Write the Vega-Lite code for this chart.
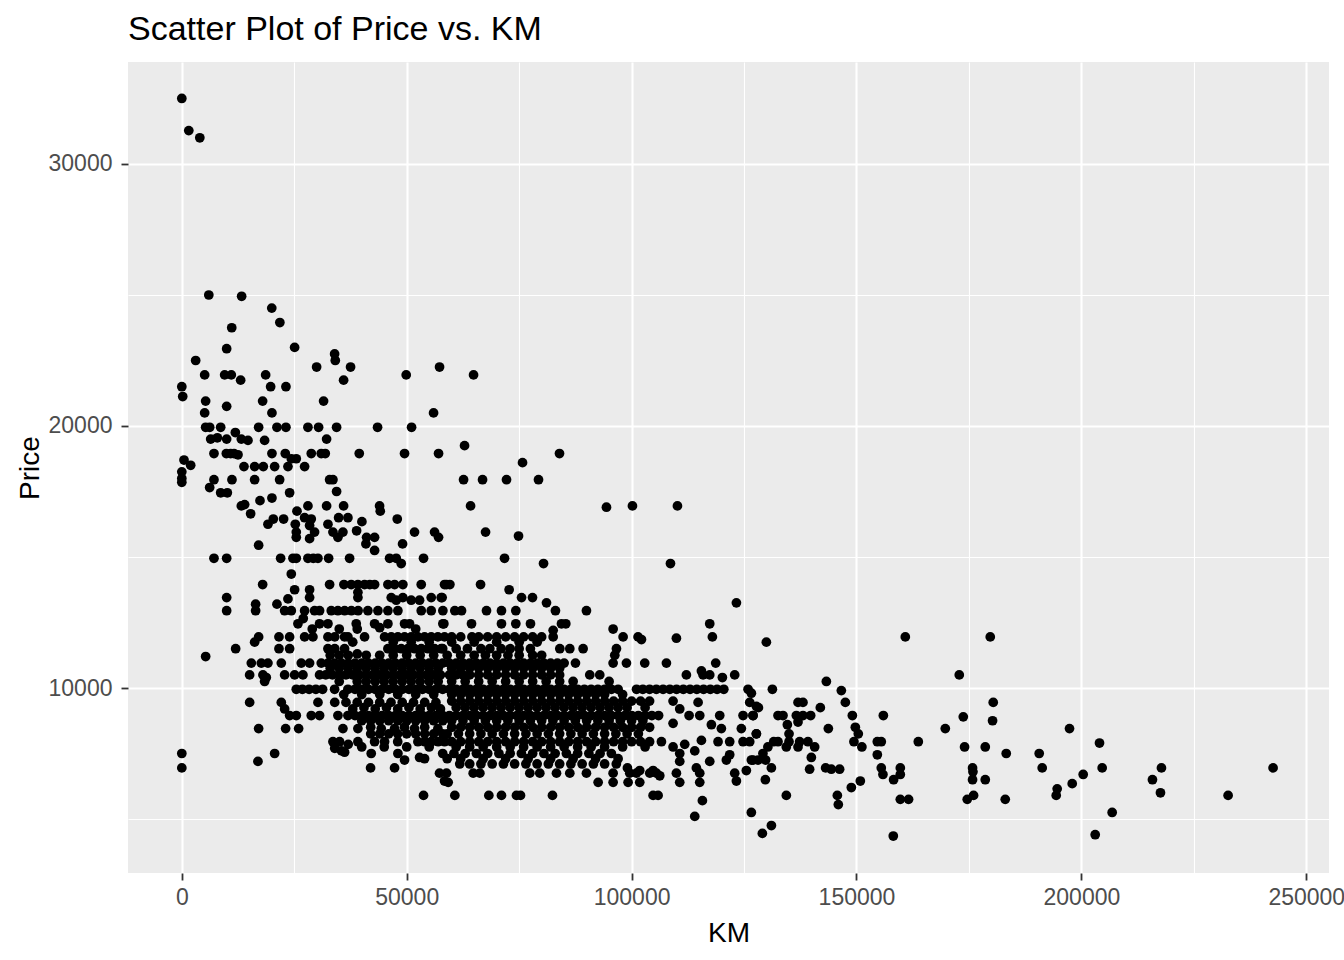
{
  "$schema": "https://vega.github.io/schema/vega-lite/v6.json",
  "width": 1201,
  "height": 811,
  "autosize": {"type": "none"},
  "padding": {"left": 128, "top": 62, "right": 15, "bottom": 87},
  "title": {
    "text": "Scatter Plot of Price vs. KM",
    "anchor": "start",
    "frame": "group",
    "baseline": "alphabetic",
    "offset": -12,
    "font": "Liberation Sans",
    "fontSize": 34,
    "fontWeight": "normal",
    "color": "#000000"
  },
  "data": {
    "values": [
      {"KM":0,"Price":32500},{"KM":1550,"Price":31275},{"KM":4000,"Price":31000},{"KM":6000,"Price":25000},{"KM":13300,"Price":24950},{"KM":20000,"Price":24500},{"KM":21800,"Price":23950},{"KM":11100,"Price":23750},
      {"KM":9970,"Price":22950},{"KM":25080,"Price":23000},{"KM":33970,"Price":22750},{"KM":34120,"Price":22500},{"KM":3080,"Price":22500},{"KM":29970,"Price":22250},{"KM":37520,"Price":22250},{"KM":57300,"Price":22250},{"KM":5080,"Price":21950},{"KM":9525,"Price":21950},{"KM":11000,"Price":21950},{"KM":13080,"Price":21750},{"KM":18640,"Price":21950},{"KM":49890,"Price":21950},{"KM":19750,"Price":21500},{"KM":23150,"Price":21500},{"KM":35970,"Price":21750},{"KM":1,"Price":21500},{"KM":200,"Price":21125},{"KM":5300,"Price":20950},{"KM":9970,"Price":20750},{"KM":17970,"Price":20950},{"KM":31520,"Price":20950},{"KM":5080,"Price":20500},{"KM":20040,"Price":20500},{"KM":55970,"Price":20500},
      {"KM":5300,"Price":19950},{"KM":6200,"Price":19950},{"KM":8640,"Price":19950},{"KM":17080,"Price":19950},{"KM":21150,"Price":19950},{"KM":23150,"Price":19950},{"KM":28040,"Price":19950},{"KM":30410,"Price":19950},{"KM":34410,"Price":19950},{"KM":43520,"Price":19950},{"KM":51080,"Price":19950},
      {"KM":6415,"Price":19500},{"KM":7900,"Price":19550},{"KM":9970,"Price":19500},{"KM":11900,"Price":19750},{"KM":13230,"Price":19500},{"KM":14710,"Price":19450},{"KM":18410,"Price":19450},{"KM":32190,"Price":19500},
      {"KM":7150,"Price":18950},{"KM":9900,"Price":18950},{"KM":10860,"Price":18950},{"KM":11600,"Price":18950},{"KM":12490,"Price":18900},{"KM":20040,"Price":18950},{"KM":23000,"Price":18950},{"KM":24340,"Price":18750},{"KM":25450,"Price":18750},{"KM":28780,"Price":18950},{"KM":31000,"Price":18950},{"KM":31890,"Price":18950},{"KM":39450,"Price":18950},{"KM":49520,"Price":18950},{"KM":57080,"Price":18950},
      {"KM":490,"Price":18700},{"KM":1970,"Price":18500},
      {"KM":13820,"Price":18450},{"KM":16190,"Price":18450},{"KM":18120,"Price":18450},{"KM":20640,"Price":18450},{"KM":23600,"Price":18450},{"KM":27300,"Price":18450},
      {"KM":1,"Price":18250},{"KM":1,"Price":18000},{"KM":1,"Price":17850},
      {"KM":7150,"Price":17950},{"KM":11150,"Price":17950},{"KM":16190,"Price":17950},{"KM":21750,"Price":17950},{"KM":32860,"Price":17950},{"KM":33600,"Price":17950},
      {"KM":6190,"Price":17650},{"KM":8640,"Price":17450},{"KM":10120,"Price":17450},{"KM":23970,"Price":17450},{"KM":34410,"Price":17500},{"KM":17380,"Price":17150},{"KM":20040,"Price":17250},{"KM":13230,"Price":16950},{"KM":13970,"Price":17000},{"KM":15300,"Price":16650},{"KM":22630,"Price":16450},{"KM":25600,"Price":16750},{"KM":28040,"Price":16950},{"KM":32190,"Price":16950},{"KM":35970,"Price":16950},{"KM":43970,"Price":16950},{"KM":44120,"Price":16750},{"KM":19150,"Price":16250},{"KM":20340,"Price":16450},{"KM":25230,"Price":16250},{"KM":25450,"Price":15950},{"KM":25450,"Price":15750},{"KM":27300,"Price":16500},{"KM":28780,"Price":16450},{"KM":28410,"Price":16200},{"KM":29520,"Price":15950},{"KM":28410,"Price":15700},{"KM":32490,"Price":16250},{"KM":33600,"Price":15950},{"KM":34710,"Price":15750},{"KM":35820,"Price":15950},{"KM":34860,"Price":16500},{"KM":36930,"Price":16500},{"KM":38860,"Price":16000},{"KM":40040,"Price":16350},{"KM":41080,"Price":15750},{"KM":42860,"Price":15750},{"KM":40930,"Price":15500},{"KM":42860,"Price":15250},{"KM":47900,"Price":16450},{"KM":49080,"Price":15500},{"KM":51740,"Price":15950},{"KM":56190,"Price":15950},{"KM":57080,"Price":15750},{"KM":17080,"Price":15450},
      {"KM":7150,"Price":14950},{"KM":9970,"Price":14950},{"KM":21970,"Price":14950},{"KM":24710,"Price":14950},{"KM":25450,"Price":14950},{"KM":28040,"Price":14950},{"KM":29230,"Price":14950},{"KM":30260,"Price":14950},{"KM":32640,"Price":14950},{"KM":37300,"Price":14950},{"KM":46190,"Price":14950},{"KM":47670,"Price":14950},{"KM":48780,"Price":14750},{"KM":53740,"Price":14950},
      {"KM":24340,"Price":14350},
      {"KM":17970,"Price":13950},{"KM":32860,"Price":13950},{"KM":36040,"Price":13950},{"KM":37670,"Price":13950},{"KM":39150,"Price":13950},{"KM":40630,"Price":13950},{"KM":41800,"Price":13950},{"KM":42860,"Price":13950},{"KM":45820,"Price":13950},{"KM":47300,"Price":13950},{"KM":49150,"Price":13950},{"KM":53230,"Price":13950},{"KM":58410,"Price":13950},
      {"KM":25080,"Price":13750},{"KM":28410,"Price":13750},{"KM":9970,"Price":13450},{"KM":23600,"Price":13400},{"KM":28410,"Price":13450},{"KM":39150,"Price":13450},{"KM":39150,"Price":13650},{"KM":46560,"Price":13450},{"KM":47670,"Price":13350},{"KM":49150,"Price":13450},{"KM":51000,"Price":13350},{"KM":52860,"Price":13350},{"KM":55450,"Price":13450},{"KM":57670,"Price":13450},
      {"KM":64860,"Price":21950},{"KM":62860,"Price":19250},{"KM":83970,"Price":18950},{"KM":75750,"Price":18600},{"KM":62640,"Price":17950},{"KM":66860,"Price":17950},{"KM":72190,"Price":17950},{"KM":79300,"Price":17950},{"KM":64200,"Price":16950},{"KM":94410,"Price":16900},{"KM":100190,"Price":16950},{"KM":110190,"Price":16950},{"KM":67530,"Price":15950},{"KM":74860,"Price":15800},{"KM":71750,"Price":14950},{"KM":80420,"Price":14750},{"KM":108640,"Price":14750},{"KM":58860,"Price":13950},{"KM":59600,"Price":13950},{"KM":66420,"Price":13950},{"KM":72770,"Price":13750},{"KM":75530,"Price":13450},{"KM":77970,"Price":13450},{"KM":81080,"Price":13250},{"KM":123300,"Price":13250},{"KM":57880,"Price":13450},
      {"KM":9970,"Price":12950},{"KM":16410,"Price":13200},{"KM":16410,"Price":12950},{"KM":21150,"Price":13200},
      {"KM":22860,"Price":12950},{"KM":24340,"Price":12950},{"KM":27300,"Price":12950},{"KM":29520,"Price":12950},{"KM":30630,"Price":12950},{"KM":33230,"Price":12950},{"KM":34700,"Price":12950},{"KM":36200,"Price":12950},{"KM":37700,"Price":12950},{"KM":39200,"Price":12950},{"KM":41370,"Price":12950},{"KM":43600,"Price":12950},{"KM":45820,"Price":12950},{"KM":48040,"Price":12950},{"KM":53230,"Price":12950},{"KM":55450,"Price":12950},{"KM":58040,"Price":12950},
      {"KM":25820,"Price":12450},{"KM":30630,"Price":12450},{"KM":32490,"Price":12450},{"KM":38780,"Price":12450},{"KM":42860,"Price":12450},{"KM":45820,"Price":12450},{"KM":49520,"Price":12450},{"KM":50630,"Price":12450},{"KM":58040,"Price":12450},
      {"KM":35000,"Price":12250},{"KM":39000,"Price":12250},{"KM":44000,"Price":12300},{"KM":52000,"Price":12250},{"KM":27000,"Price":12650},{"KM":29000,"Price":12250},
      {"KM":17080,"Price":11950},{"KM":16190,"Price":11750},{"KM":21600,"Price":11950},{"KM":23970,"Price":11950},{"KM":21600,"Price":11500},{"KM":23970,"Price":11500},{"KM":27300,"Price":11950},{"KM":29150,"Price":11950},{"KM":32490,"Price":11950},{"KM":34000,"Price":11950},{"KM":36190,"Price":11950},{"KM":32490,"Price":11500},{"KM":34000,"Price":11500},{"KM":36190,"Price":11500},{"KM":36930,"Price":11950},{"KM":40630,"Price":11950},{"KM":45080,"Price":11950},{"KM":46560,"Price":11950},{"KM":48040,"Price":11950},{"KM":49520,"Price":11950},{"KM":51000,"Price":11950},{"KM":52490,"Price":11950},{"KM":53970,"Price":11950},{"KM":55450,"Price":11950},{"KM":56930,"Price":11950},{"KM":58410,"Price":11950},
      {"KM":45820,"Price":11500},{"KM":47300,"Price":11500},{"KM":48780,"Price":11500},{"KM":50260,"Price":11500},{"KM":51740,"Price":11500},{"KM":53230,"Price":11500},{"KM":54710,"Price":11500},{"KM":56190,"Price":11500},{"KM":57670,"Price":11500},
      {"KM":11970,"Price":11500},{"KM":5300,"Price":11200},
      {"KM":33000,"Price":11250},{"KM":35000,"Price":11250},{"KM":37000,"Price":11250},{"KM":39000,"Price":11300},
      {"KM":15450,"Price":10950},{"KM":17670,"Price":10950},{"KM":19150,"Price":10950},{"KM":22120,"Price":10950},{"KM":26560,"Price":10950},{"KM":28410,"Price":10950},{"KM":31000,"Price":10950},{"KM":32500,"Price":10950},{"KM":34000,"Price":10950},{"KM":35500,"Price":10950},{"KM":37000,"Price":10950},{"KM":38500,"Price":10950},{"KM":40000,"Price":10950},{"KM":41500,"Price":10950},{"KM":43000,"Price":10950},{"KM":44500,"Price":10950},{"KM":46000,"Price":10950},{"KM":47500,"Price":10950},{"KM":49000,"Price":10950},{"KM":50500,"Price":10950},{"KM":52000,"Price":10950},{"KM":53500,"Price":10950},{"KM":55000,"Price":10950},{"KM":56500,"Price":10950},{"KM":58000,"Price":10950},
      {"KM":15080,"Price":10500},{"KM":18040,"Price":10500},{"KM":18780,"Price":10400},{"KM":22860,"Price":10500},{"KM":25080,"Price":10500},{"KM":26930,"Price":10500},{"KM":30630,"Price":10500},{"KM":32000,"Price":10500},{"KM":33500,"Price":10500},{"KM":35000,"Price":10500},{"KM":36500,"Price":10500},{"KM":38000,"Price":10500},{"KM":39500,"Price":10500},{"KM":41000,"Price":10500},{"KM":42500,"Price":10500},{"KM":44000,"Price":10500},{"KM":45500,"Price":10500},{"KM":47000,"Price":10500},{"KM":48500,"Price":10500},{"KM":50000,"Price":10500},{"KM":51500,"Price":10500},{"KM":53000,"Price":10500},{"KM":54500,"Price":10500},{"KM":56000,"Price":10500},{"KM":57500,"Price":10500},
      {"KM":18410,"Price":10250},
      {"KM":33000,"Price":10750},{"KM":37000,"Price":10750},{"KM":41000,"Price":10750},{"KM":45000,"Price":10750},{"KM":49000,"Price":10750},{"KM":53000,"Price":10750},{"KM":57000,"Price":10750},{"KM":35000,"Price":10250},{"KM":39000,"Price":10250},{"KM":43000,"Price":10250},{"KM":47000,"Price":10250},{"KM":51000,"Price":10250},{"KM":55000,"Price":10250},
      {"KM":25450,"Price":9950},{"KM":26800,"Price":9950},{"KM":28300,"Price":9950},{"KM":29800,"Price":9950},{"KM":31300,"Price":9950},{"KM":33970,"Price":9950},{"KM":36930,"Price":9950},{"KM":38500,"Price":9950},{"KM":40000,"Price":9950},{"KM":41500,"Price":9950},{"KM":43000,"Price":9950},{"KM":44500,"Price":9950},{"KM":46000,"Price":9950},{"KM":47500,"Price":9950},{"KM":49000,"Price":9950},{"KM":50500,"Price":9950},{"KM":52000,"Price":9950},{"KM":53500,"Price":9950},{"KM":55000,"Price":9950},{"KM":56500,"Price":9950},{"KM":58000,"Price":9950},
      {"KM":15080,"Price":9450},{"KM":22120,"Price":9450},{"KM":22860,"Price":9200},{"KM":30270,"Price":9450},
      {"KM":34000,"Price":9450},{"KM":36500,"Price":9450},{"KM":39000,"Price":9450},{"KM":41500,"Price":9450},{"KM":44000,"Price":9450},{"KM":46500,"Price":9450},{"KM":49000,"Price":9450},{"KM":51500,"Price":9450},{"KM":54000,"Price":9450},{"KM":56500,"Price":9450},
      {"KM":38000,"Price":9200},{"KM":43000,"Price":9200},{"KM":48000,"Price":9200},{"KM":53000,"Price":9200},{"KM":57500,"Price":9200},
      {"KM":23970,"Price":8950},{"KM":25450,"Price":8950},{"KM":28780,"Price":8950},{"KM":30630,"Price":8950},{"KM":34710,"Price":8950},{"KM":36930,"Price":8950},{"KM":38500,"Price":8950},{"KM":40000,"Price":8950},{"KM":41500,"Price":8950},{"KM":43000,"Price":8950},{"KM":44500,"Price":8950},{"KM":46000,"Price":8950},{"KM":47500,"Price":8950},{"KM":49000,"Price":8950},{"KM":50500,"Price":8950},{"KM":52000,"Price":8950},{"KM":53500,"Price":8950},{"KM":55000,"Price":8950},{"KM":56500,"Price":8950},{"KM":58000,"Price":8950},
      {"KM":40000,"Price":8750},{"KM":44000,"Price":8750},{"KM":48000,"Price":8750},{"KM":52000,"Price":8750},{"KM":56000,"Price":8750},
      {"KM":17080,"Price":8450},{"KM":23080,"Price":8450},{"KM":25970,"Price":8450},{"KM":35820,"Price":8450},{"KM":39150,"Price":8450},{"KM":44340,"Price":8450},{"KM":47300,"Price":8450},{"KM":51740,"Price":8450},{"KM":56930,"Price":8450},{"KM":42000,"Price":8500},{"KM":49500,"Price":8500},{"KM":54000,"Price":8500},
      {"KM":42000,"Price":8250},{"KM":46000,"Price":8250},{"KM":50000,"Price":8250},{"KM":54000,"Price":8250},{"KM":58000,"Price":8250},
      {"KM":33600,"Price":7950},{"KM":35080,"Price":7950},{"KM":39150,"Price":7950},{"KM":42860,"Price":7950},{"KM":45080,"Price":7950},{"KM":52490,"Price":7950},{"KM":54000,"Price":7950},{"KM":55450,"Price":7950},{"KM":57000,"Price":7950},{"KM":58410,"Price":7950},{"KM":37000,"Price":7850},{"KM":48000,"Price":7950},
      {"KM":36190,"Price":7550},{"KM":34000,"Price":7700},{"KM":35500,"Price":7600},{"KM":1,"Price":7500},{"KM":1,"Price":6950},{"KM":16930,"Price":7200},{"KM":20640,"Price":7500},{"KM":42110,"Price":7500},{"KM":48040,"Price":7500},{"KM":49520,"Price":7250},{"KM":52860,"Price":7350},{"KM":53970,"Price":7300},{"KM":41970,"Price":6950},{"KM":47300,"Price":6950},{"KM":57300,"Price":6750},{"KM":58410,"Price":6450},{"KM":53740,"Price":5900},
      {"KM":60700,"Price":12950},{"KM":62190,"Price":12950},{"KM":67740,"Price":12950},{"KM":71070,"Price":12950},{"KM":74260,"Price":12950},{"KM":83070,"Price":12950},{"KM":89960,"Price":12950},
      {"KM":58260,"Price":12450},{"KM":64410,"Price":12450},{"KM":71070,"Price":12450},{"KM":74260,"Price":12450},{"KM":77520,"Price":12450},{"KM":84410,"Price":12450},{"KM":85370,"Price":12450},
      {"KM":95890,"Price":12250},{"KM":82560,"Price":12200},{"KM":82560,"Price":11950},{"KM":98110,"Price":11950},{"KM":101440,"Price":11950},{"KM":102190,"Price":11850},{"KM":109960,"Price":11900},{"KM":117370,"Price":12450},{"KM":117960,"Price":11950},
      {"KM":60000,"Price":11950},{"KM":62000,"Price":11950},{"KM":64500,"Price":11950},{"KM":66000,"Price":11950},{"KM":68000,"Price":11950},{"KM":70000,"Price":11950},{"KM":72000,"Price":11950},{"KM":74000,"Price":11950},{"KM":76000,"Price":11950},{"KM":78000,"Price":11950},{"KM":80000,"Price":11950},
      {"KM":58000,"Price":11500},{"KM":61000,"Price":11500},{"KM":63500,"Price":11500},{"KM":66500,"Price":11500},{"KM":68480,"Price":11500},{"KM":71000,"Price":11500},{"KM":73000,"Price":11500},{"KM":75000,"Price":11500},{"KM":77500,"Price":11500},{"KM":84040,"Price":11500},{"KM":86260,"Price":11500},{"KM":89220,"Price":11500},{"KM":96630,"Price":11500},{"KM":96260,"Price":11250},
      {"KM":59000,"Price":11250},{"KM":62000,"Price":11250},{"KM":65000,"Price":11250},{"KM":70000,"Price":11250},{"KM":75000,"Price":11250},
      {"KM":87520,"Price":10950},
      {"KM":59500,"Price":10950},{"KM":61000,"Price":10950},{"KM":62500,"Price":10950},{"KM":64000,"Price":10950},{"KM":65500,"Price":10950},{"KM":67000,"Price":10950},{"KM":68500,"Price":10950},{"KM":70000,"Price":10950},{"KM":71500,"Price":10950},{"KM":73000,"Price":10950},{"KM":74500,"Price":10950},{"KM":76000,"Price":10950},{"KM":77500,"Price":10950},{"KM":79000,"Price":10950},{"KM":80500,"Price":10950},{"KM":82000,"Price":10950},{"KM":83500,"Price":10950},{"KM":85000,"Price":10950},{"KM":95890,"Price":10950},{"KM":98850,"Price":10950},{"KM":102920,"Price":10950},{"KM":107740,"Price":10950},{"KM":118700,"Price":10950},
      {"KM":60000,"Price":10750},{"KM":64000,"Price":10750},{"KM":68000,"Price":10750},{"KM":72000,"Price":10750},{"KM":76000,"Price":10750},{"KM":80000,"Price":10750},
      {"KM":59500,"Price":10500},{"KM":61000,"Price":10500},{"KM":62500,"Price":10500},{"KM":64000,"Price":10500},{"KM":66000,"Price":10500},{"KM":68000,"Price":10500},{"KM":70000,"Price":10500},{"KM":72000,"Price":10500},{"KM":74000,"Price":10500},{"KM":76000,"Price":10500},{"KM":78000,"Price":10500},{"KM":80000,"Price":10500},{"KM":82000,"Price":10500},{"KM":84000,"Price":10500},{"KM":90700,"Price":10500},{"KM":92920,"Price":10500},{"KM":95000,"Price":10250},{"KM":112180,"Price":10500},{"KM":115890,"Price":10500},{"KM":117370,"Price":10500},{"KM":122920,"Price":10500},{"KM":115520,"Price":10650},{"KM":120180,"Price":10400},
      {"KM":60000,"Price":10250},{"KM":66000,"Price":10250},{"KM":72000,"Price":10250},{"KM":78000,"Price":10250},{"KM":84000,"Price":10250},
      {"KM":59500,"Price":9950},{"KM":61000,"Price":9950},{"KM":62500,"Price":9950},{"KM":64000,"Price":9950},{"KM":65500,"Price":9950},{"KM":67000,"Price":9950},{"KM":68500,"Price":9950},{"KM":70000,"Price":9950},{"KM":71500,"Price":9950},{"KM":73000,"Price":9950},{"KM":74500,"Price":9950},{"KM":76000,"Price":9950},{"KM":77500,"Price":9950},{"KM":79000,"Price":9950},{"KM":80500,"Price":9950},{"KM":82000,"Price":9950},{"KM":83500,"Price":9950},{"KM":85000,"Price":9950},{"KM":86500,"Price":9950},{"KM":88000,"Price":9950},{"KM":89500,"Price":9950},{"KM":91000,"Price":9950},{"KM":92500,"Price":9950},{"KM":94000,"Price":9950},{"KM":95500,"Price":9950},{"KM":97000,"Price":9950},{"KM":101100,"Price":9950},{"KM":102500,"Price":9950},{"KM":104000,"Price":9950},{"KM":105500,"Price":9950},{"KM":107000,"Price":9950},{"KM":108500,"Price":9950},{"KM":110000,"Price":9950},{"KM":111500,"Price":9950},{"KM":113000,"Price":9950},{"KM":114500,"Price":9950},{"KM":116000,"Price":9950},{"KM":117500,"Price":9950},{"KM":119000,"Price":9950},{"KM":120500,"Price":9950},{"KM":125890,"Price":9950},{"KM":126630,"Price":9800},
      {"KM":60000,"Price":9750},{"KM":64000,"Price":9750},{"KM":68000,"Price":9750},{"KM":72000,"Price":9750},{"KM":76000,"Price":9750},{"KM":80000,"Price":9750},{"KM":84000,"Price":9750},{"KM":88000,"Price":9750},{"KM":92000,"Price":9750},
      {"KM":60000,"Price":9500},{"KM":62000,"Price":9500},{"KM":64000,"Price":9500},{"KM":66000,"Price":9500},{"KM":68000,"Price":9500},{"KM":70000,"Price":9500},{"KM":72000,"Price":9500},{"KM":74000,"Price":9500},{"KM":76000,"Price":9500},{"KM":78000,"Price":9500},{"KM":80000,"Price":9500},{"KM":82000,"Price":9500},{"KM":84000,"Price":9500},{"KM":86000,"Price":9500},{"KM":88000,"Price":9500},{"KM":90000,"Price":9500},{"KM":92000,"Price":9500},{"KM":94000,"Price":9500},{"KM":96000,"Price":9500},{"KM":98000,"Price":9500},{"KM":100000,"Price":9500},{"KM":102000,"Price":9500},{"KM":104000,"Price":9500},{"KM":109220,"Price":9500},{"KM":110700,"Price":9200},{"KM":114780,"Price":9450},{"KM":126260,"Price":9450},{"KM":127740,"Price":9300},
      {"KM":61000,"Price":9250},{"KM":65000,"Price":9250},{"KM":69000,"Price":9250},{"KM":73000,"Price":9250},{"KM":77000,"Price":9250},{"KM":81000,"Price":9250},{"KM":85000,"Price":9250},{"KM":89000,"Price":9250},{"KM":93000,"Price":9250},{"KM":97000,"Price":9250},
      {"KM":59500,"Price":8950},{"KM":61000,"Price":8950},{"KM":62500,"Price":8950},{"KM":64000,"Price":8950},{"KM":65500,"Price":8950},{"KM":67000,"Price":8950},{"KM":68500,"Price":8950},{"KM":70000,"Price":8950},{"KM":71500,"Price":8950},{"KM":73000,"Price":8950},{"KM":74500,"Price":8950},{"KM":76000,"Price":8950},{"KM":77500,"Price":8950},{"KM":79000,"Price":8950},{"KM":80500,"Price":8950},{"KM":82000,"Price":8950},{"KM":83500,"Price":8950},{"KM":85000,"Price":8950},{"KM":86500,"Price":8950},{"KM":88000,"Price":8950},{"KM":89500,"Price":8950},{"KM":91000,"Price":8950},{"KM":92500,"Price":8950},{"KM":94000,"Price":8950},{"KM":95500,"Price":8950},{"KM":97000,"Price":8950},{"KM":98500,"Price":8950},{"KM":100000,"Price":8950},{"KM":101500,"Price":8950},{"KM":103000,"Price":8950},{"KM":104500,"Price":8950},{"KM":106000,"Price":8950},{"KM":112780,"Price":8950},{"KM":115150,"Price":8950},{"KM":119590,"Price":8950},{"KM":124780,"Price":8950},{"KM":127000,"Price":8950},
      {"KM":60000,"Price":8750},{"KM":65000,"Price":8750},{"KM":70000,"Price":8750},{"KM":75000,"Price":8750},{"KM":80000,"Price":8750},{"KM":85000,"Price":8750},{"KM":90000,"Price":8750},{"KM":95000,"Price":8750},{"KM":100000,"Price":8750},
      {"KM":60000,"Price":8500},{"KM":62000,"Price":8500},{"KM":64000,"Price":8500},{"KM":66000,"Price":8500},{"KM":68000,"Price":8500},{"KM":70000,"Price":8500},{"KM":72000,"Price":8500},{"KM":74000,"Price":8500},{"KM":76000,"Price":8500},{"KM":78000,"Price":8500},{"KM":80000,"Price":8500},{"KM":82000,"Price":8500},{"KM":84000,"Price":8500},{"KM":86000,"Price":8500},{"KM":88000,"Price":8500},{"KM":90000,"Price":8500},{"KM":92000,"Price":8500},{"KM":94000,"Price":8500},{"KM":96000,"Price":8500},{"KM":98000,"Price":8500},{"KM":100000,"Price":8500},{"KM":102000,"Price":8500},{"KM":104000,"Price":8500},{"KM":109220,"Price":8650},{"KM":117740,"Price":8600},{"KM":119960,"Price":8450},{"KM":124400,"Price":8450},{"KM":127740,"Price":8250},
      {"KM":59000,"Price":8250},{"KM":64000,"Price":8250},{"KM":69000,"Price":8250},{"KM":74000,"Price":8250},{"KM":79000,"Price":8250},{"KM":84000,"Price":8250},{"KM":89000,"Price":8250},{"KM":94000,"Price":8250},{"KM":99000,"Price":8250},
      {"KM":60000,"Price":7950},{"KM":62000,"Price":7950},{"KM":64000,"Price":7950},{"KM":66000,"Price":7950},{"KM":68000,"Price":7950},{"KM":70000,"Price":7950},{"KM":72000,"Price":7950},{"KM":74000,"Price":7950},{"KM":76000,"Price":7950},{"KM":78000,"Price":7950},{"KM":80000,"Price":7950},{"KM":82000,"Price":7950},{"KM":84000,"Price":7950},{"KM":86000,"Price":7950},{"KM":88000,"Price":7950},{"KM":90000,"Price":7950},{"KM":92000,"Price":7950},{"KM":94000,"Price":7950},{"KM":96000,"Price":7950},{"KM":98000,"Price":7950},{"KM":100000,"Price":7950},{"KM":102000,"Price":7950},{"KM":104000,"Price":7950},{"KM":106630,"Price":7950},{"KM":109220,"Price":7750},{"KM":111810,"Price":7850},{"KM":115520,"Price":8000},{"KM":119220,"Price":7950},{"KM":121810,"Price":7950},{"KM":124780,"Price":7950},{"KM":126260,"Price":7950},
      {"KM":61000,"Price":7750},{"KM":67000,"Price":7750},{"KM":73000,"Price":7750},{"KM":79000,"Price":7750},{"KM":85000,"Price":7750},{"KM":91000,"Price":7750},
      {"KM":58000,"Price":7500},{"KM":60500,"Price":7500},{"KM":63000,"Price":7500},{"KM":65500,"Price":7500},{"KM":68000,"Price":7500},{"KM":70500,"Price":7500},{"KM":73000,"Price":7500},{"KM":75500,"Price":7500},{"KM":78000,"Price":7500},{"KM":80500,"Price":7500},{"KM":83000,"Price":7500},{"KM":85500,"Price":7500},{"KM":88000,"Price":7500},{"KM":90500,"Price":7500},{"KM":93000,"Price":7500},{"KM":95500,"Price":7500},{"KM":110700,"Price":7500},{"KM":114040,"Price":7600},{"KM":121810,"Price":7450},{"KM":126630,"Price":7250},{"KM":128110,"Price":7250},
      {"KM":61800,"Price":7100},{"KM":64000,"Price":7100},{"KM":66500,"Price":7100},{"KM":69000,"Price":7100},{"KM":71500,"Price":7100},{"KM":74000,"Price":7100},{"KM":76500,"Price":7100},{"KM":79000,"Price":7100},{"KM":81500,"Price":7100},{"KM":84000,"Price":7100},{"KM":86500,"Price":7100},{"KM":89000,"Price":7100},{"KM":91500,"Price":7100},{"KM":94000,"Price":7100},{"KM":96600,"Price":7100},{"KM":99070,"Price":6950},{"KM":101810,"Price":6850},{"KM":104780,"Price":6850},{"KM":106260,"Price":6650},{"KM":110700,"Price":7200},{"KM":114400,"Price":6950},{"KM":117370,"Price":7200},{"KM":121070,"Price":7250},{"KM":125510,"Price":6850},
      {"KM":58850,"Price":6750},{"KM":64780,"Price":6750},{"KM":66260,"Price":6750},{"KM":77370,"Price":6750},{"KM":79590,"Price":6750},{"KM":83300,"Price":6750},{"KM":86260,"Price":6750},{"KM":89960,"Price":6750},{"KM":95890,"Price":6750},{"KM":99590,"Price":6750},{"KM":101070,"Price":6750},{"KM":104040,"Price":6750},{"KM":105520,"Price":6750},{"KM":109960,"Price":6750},{"KM":115150,"Price":6750},{"KM":122920,"Price":6750},{"KM":123300,"Price":6450},
      {"KM":59220,"Price":6400},{"KM":92560,"Price":6400},{"KM":95890,"Price":6400},{"KM":99220,"Price":6400},{"KM":101810,"Price":6400},{"KM":110700,"Price":6400},{"KM":115150,"Price":6400},
      {"KM":60700,"Price":5900},{"KM":68260,"Price":5900},{"KM":71070,"Price":5900},{"KM":74400,"Price":5900},{"KM":75300,"Price":5900},{"KM":82410,"Price":5900},{"KM":104780,"Price":5900},{"KM":105890,"Price":5900},
      {"KM":115740,"Price":5700},{"KM":114040,"Price":5100},
      {"KM":36000,"Price":9750},{"KM":40000,"Price":9750},{"KM":44000,"Price":9750},{"KM":48000,"Price":9750},{"KM":52000,"Price":9750},{"KM":56000,"Price":9750},{"KM":62000,"Price":9750},{"KM":66000,"Price":9750},{"KM":70000,"Price":9750},{"KM":74000,"Price":9750},{"KM":78000,"Price":9750},{"KM":82000,"Price":9750},{"KM":86000,"Price":9750},{"KM":90000,"Price":9750},{"KM":94000,"Price":9750},{"KM":98000,"Price":9750},
      {"KM":40500,"Price":9250},{"KM":45500,"Price":9250},{"KM":50500,"Price":9250},{"KM":55500,"Price":9250},{"KM":63000,"Price":9250},{"KM":67000,"Price":9250},{"KM":71000,"Price":9250},{"KM":75000,"Price":9250},{"KM":79000,"Price":9250},{"KM":83000,"Price":9250},{"KM":87000,"Price":9250},{"KM":91000,"Price":9250},{"KM":95000,"Price":9250},{"KM":99000,"Price":9250},{"KM":103000,"Price":9250},
      {"KM":42000,"Price":8750},{"KM":46000,"Price":8750},{"KM":50000,"Price":8750},{"KM":54000,"Price":8750},{"KM":58000,"Price":8750},{"KM":62500,"Price":8750},{"KM":67500,"Price":8750},{"KM":72500,"Price":8750},{"KM":77500,"Price":8750},{"KM":82500,"Price":8750},{"KM":87500,"Price":8750},{"KM":92500,"Price":8750},{"KM":97500,"Price":8750},{"KM":102500,"Price":8750},
      {"KM":44000,"Price":8250},{"KM":48000,"Price":8250},{"KM":52000,"Price":8250},{"KM":56000,"Price":8250},{"KM":61500,"Price":8250},{"KM":66500,"Price":8250},{"KM":71500,"Price":8250},{"KM":76500,"Price":8250},{"KM":81500,"Price":8250},{"KM":86500,"Price":8250},{"KM":91500,"Price":8250},{"KM":96500,"Price":8250},{"KM":101500,"Price":8250},
      {"KM":40000,"Price":7750},{"KM":45000,"Price":7750},{"KM":50000,"Price":7750},{"KM":55000,"Price":7750},{"KM":64000,"Price":7750},{"KM":70000,"Price":7750},{"KM":76000,"Price":7750},{"KM":82000,"Price":7750},{"KM":88000,"Price":7750},{"KM":94000,"Price":7750},{"KM":98000,"Price":7750},{"KM":103000,"Price":7750},
      {"KM":59000,"Price":7300},{"KM":62000,"Price":7300},{"KM":67000,"Price":7300},{"KM":72000,"Price":7300},{"KM":77000,"Price":7300},{"KM":82000,"Price":7300},{"KM":87000,"Price":7300},{"KM":92000,"Price":7300},{"KM":97000,"Price":7300},
      {"KM":41000,"Price":10250},{"KM":45000,"Price":10250},{"KM":49000,"Price":10250},{"KM":53000,"Price":10250},{"KM":57000,"Price":10250},{"KM":63000,"Price":10250},{"KM":69000,"Price":10250},{"KM":75000,"Price":10250},{"KM":81000,"Price":10250},{"KM":87000,"Price":10250},
      {"KM":35000,"Price":10750},{"KM":39000,"Price":10750},{"KM":43000,"Price":10750},{"KM":47000,"Price":10750},{"KM":51000,"Price":10750},{"KM":55000,"Price":10750},{"KM":62000,"Price":10750},{"KM":66000,"Price":10750},{"KM":70000,"Price":10750},{"KM":74000,"Price":10750},{"KM":78000,"Price":10750},{"KM":82000,"Price":10750},{"KM":84000,"Price":10750},
      {"KM":41000,"Price":11250},{"KM":44000,"Price":11250},{"KM":47000,"Price":11250},{"KM":50000,"Price":11250},{"KM":53000,"Price":11250},{"KM":56000,"Price":11250},{"KM":67500,"Price":11250},{"KM":72500,"Price":11250},{"KM":78000,"Price":11250},{"KM":80000,"Price":11250},
      {"KM":38000,"Price":11750},{"KM":47000,"Price":11750},{"KM":51000,"Price":11750},{"KM":55000,"Price":11750},{"KM":60000,"Price":11750},{"KM":65000,"Price":11750},{"KM":70000,"Price":11750},{"KM":75000,"Price":11750},{"KM":79000,"Price":11750},
      {"KM":129960,"Price":11750},{"KM":160850,"Price":11950},{"KM":179740,"Price":11950},{"KM":172850,"Price":10500},{"KM":143300,"Price":10250},{"KM":131300,"Price":9950},{"KM":146630,"Price":9900},{"KM":147520,"Price":9450},{"KM":180400,"Price":9450},{"KM":128190,"Price":9250},{"KM":137000,"Price":9450},{"KM":138100,"Price":9450},{"KM":141960,"Price":9250},{"KM":127000,"Price":8950},{"KM":132550,"Price":8950},{"KM":133660,"Price":8950},{"KM":136630,"Price":8950},{"KM":138100,"Price":8950},{"KM":139810,"Price":8950},{"KM":137000,"Price":8700},{"KM":149080,"Price":8950},{"KM":155970,"Price":8950},{"KM":173740,"Price":8900},{"KM":180250,"Price":8750},{"KM":134630,"Price":8600},{"KM":143740,"Price":8450},{"KM":127740,"Price":8250},{"KM":149740,"Price":8500},{"KM":150400,"Price":8250},{"KM":169740,"Price":8450},{"KM":135000,"Price":8250},{"KM":135000,"Price":7950},{"KM":130300,"Price":7750},{"KM":131600,"Price":7950},{"KM":132550,"Price":7950},{"KM":137360,"Price":7950},{"KM":139200,"Price":7950},{"KM":134400,"Price":7750},{"KM":137000,"Price":7750},{"KM":140700,"Price":7750},{"KM":149430,"Price":7950},{"KM":151200,"Price":7750},{"KM":154630,"Price":7950},{"KM":154630,"Price":7450},{"KM":155510,"Price":7950},{"KM":163740,"Price":7950},{"KM":174030,"Price":7750},{"KM":178630,"Price":7750},{"KM":183290,"Price":7500},{"KM":190620,"Price":7500},{"KM":191290,"Price":6950},{"KM":129200,"Price":7500},{"KM":127000,"Price":7250},{"KM":129800,"Price":7250},{"KM":139960,"Price":7350},{"KM":131080,"Price":6950},{"KM":139580,"Price":6900},{"KM":143140,"Price":6950},{"KM":144400,"Price":6900},{"KM":146250,"Price":6900},{"KM":155510,"Price":6950},{"KM":155880,"Price":6700},{"KM":159740,"Price":6950},{"KM":159740,"Price":6700},{"KM":158250,"Price":6500},{"KM":175800,"Price":6950},{"KM":175890,"Price":6800},{"KM":175800,"Price":6500},{"KM":178630,"Price":6500},{"KM":129740,"Price":6500},{"KM":148850,"Price":6200},{"KM":150850,"Price":6450},{"KM":134400,"Price":5900},{"KM":145740,"Price":5900},{"KM":145960,"Price":5550},{"KM":159740,"Price":5750},{"KM":161580,"Price":5750},{"KM":174620,"Price":5750},{"KM":176030,"Price":5900},{"KM":183070,"Price":5750},{"KM":126620,"Price":5250},{"KM":131080,"Price":4750},{"KM":129070,"Price":4450},{"KM":158180,"Price":4350},
      {"KM":197360,"Price":8450},{"KM":204030,"Price":7900},{"KM":204620,"Price":6950},{"KM":200400,"Price":6700},{"KM":197960,"Price":6350},{"KM":194620,"Price":6150},{"KM":194400,"Price":5900},{"KM":206840,"Price":5250},{"KM":203070,"Price":4400},{"KM":217800,"Price":6950},{"KM":215800,"Price":6500},{"KM":217580,"Price":6000},{"KM":232620,"Price":5900},{"KM":242620,"Price":6950}
    ]
  },
  "mark": {"type": "circle", "size": 95, "color": "#000000", "opacity": 1},
  "encoding": {
    "x": {
      "field": "KM",
      "type": "quantitative",
      "scale": {"domain": [-11964, 255050], "nice": false, "zero": false},
      "axis": {
        "title": "KM",
        "values": [0, 25000, 50000, 75000, 100000, 125000, 150000, 175000, 200000, 225000, 250000],
        "format": "d",
        "labelExpr": "datum.value % 50000 === 0 ? datum.label : ''",
        "tickOpacity": {"condition": {"test": "datum.value % 50000 === 0", "value": 1}, "value": 0},
        "gridWidth": {"condition": {"test": "datum.value % 50000 === 0", "value": 2.1}, "value": 1.1},
        "labelPadding": 6,
        "titlePadding": 10
      }
    },
    "y": {
      "field": "Price",
      "type": "quantitative",
      "scale": {"domain": [2939, 33893], "nice": false, "zero": false},
      "axis": {
        "title": "Price",
        "values": [5000, 10000, 15000, 20000, 25000, 30000],
        "format": "d",
        "labelExpr": "datum.value % 10000 === 0 ? datum.label : ''",
        "tickOpacity": {"condition": {"test": "datum.value % 10000 === 0", "value": 1}, "value": 0},
        "gridWidth": {"condition": {"test": "datum.value % 10000 === 0", "value": 2.1}, "value": 1.1},
        "labelPadding": 9,
        "titlePadding": 4
      }
    }
  },
  "config": {
    "view": {"fill": "#EBEBEB", "stroke": null},
    "axis": {
      "domain": false,
      "grid": true,
      "gridColor": "#FFFFFF",
      "tickColor": "#333333",
      "tickSize": 7,
      "tickWidth": 1.8,
      "labelColor": "#4D4D4D",
      "labelFont": "Liberation Sans",
      "labelFontSize": 23,
      "titleFont": "Liberation Sans",
      "titleFontSize": 28,
      "titleFontWeight": "normal",
      "titleColor": "#000000"
    }
  }
}
